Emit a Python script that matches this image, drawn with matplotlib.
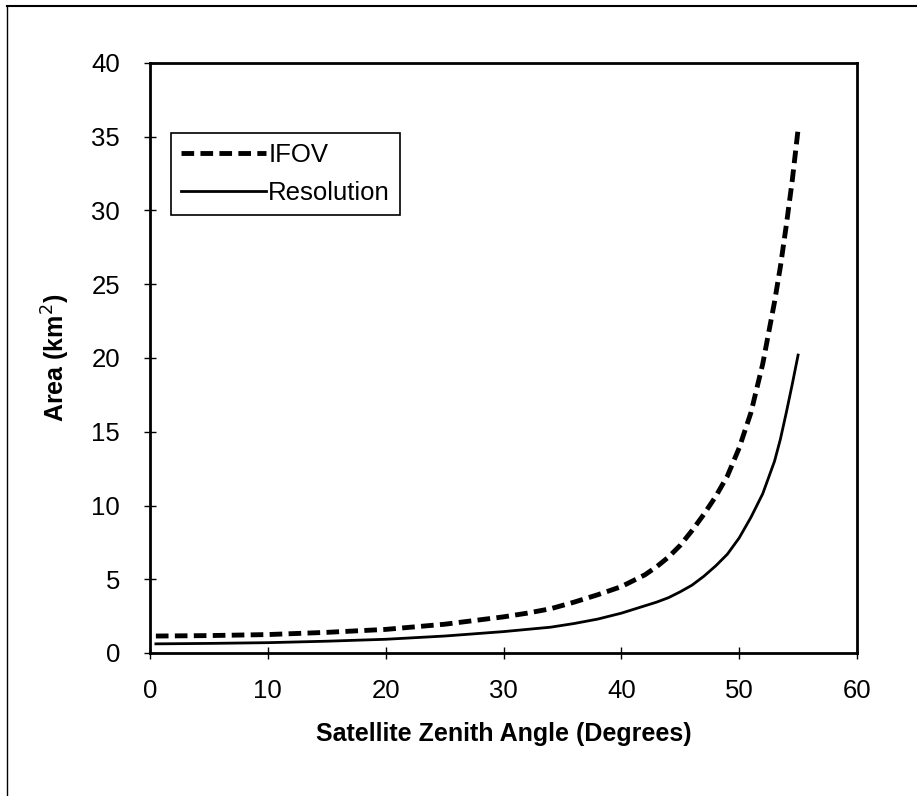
import matplotlib.pyplot as plt
from matplotlib.lines import Line2D

plt.rcParams['font.family'] = ['Liberation Sans', 'DejaVu Sans']

# zenith angle (degrees)
angle = [0.5, 5, 10, 15, 20, 25, 30, 32, 34, 36, 38, 40, 42, 43, 44, 45, 46,
         47, 48, 49, 50, 51, 52, 53, 53.5, 54, 54.5, 55]
# IFOV area (km^2)
ifov = [1.15, 1.18, 1.25, 1.4, 1.6, 1.95, 2.45, 2.7, 3.0, 3.45, 3.95, 4.5,
        5.3, 5.85, 6.5, 7.3, 8.3, 9.4, 10.6, 12.0, 13.9, 16.3, 19.6, 23.8,
        26.2, 29.0, 32.0, 35.5]
# resolution area (km^2)
resolution = [0.62, 0.65, 0.7, 0.8, 0.93, 1.15, 1.45, 1.6, 1.75, 2.0, 2.3,
              2.7, 3.2, 3.45, 3.75, 4.15, 4.6, 5.2, 5.9, 6.7, 7.8, 9.2, 10.8,
              13.0, 14.5, 16.3, 18.2, 20.2]

fig = plt.figure(figsize=(9.17, 7.96), dpi=100)
ax = fig.add_axes([150 / 917, 1 - 653 / 796, 707 / 917, 590 / 796])

ax.plot(angle, ifov, color='black', lw=3.5, linestyle=(0, (2.6, 1.3)),
        dash_capstyle='butt', label='IFOV')
ax.plot(angle, resolution, color='black', lw=2.0, label='Resolution')

ax.set_xlim(0, 60)
ax.set_ylim(0, 40)
ax.set_xticks(range(0, 61, 10))
ax.set_yticks(range(0, 41, 5))
ax.tick_params(direction='inout', length=9, width=1, labelsize=18.5, pad=14)
ax.tick_params(axis='y', pad=17)
for s in ax.spines.values():
    s.set_linewidth(2)

ax.set_xlabel('Satellite Zenith Angle (Degrees)', fontsize=18,
              fontweight='bold', labelpad=14)
ax.set_ylabel('Area (km$^2$)', fontsize=18, fontweight='bold', labelpad=14)

leg = ax.legend(loc='upper left', bbox_to_anchor=(0.029, 0.882), fontsize=18.5,
                frameon=True, fancybox=False, edgecolor='black',
                framealpha=1, handlelength=3.3, handletextpad=0.1,
                borderpad=0.4, labelspacing=0.55, borderaxespad=0)
leg.get_frame().set_linewidth(1.2)

# scanned page frame (left and top edges)
fig.add_artist(Line2D([7 / 917, 7 / 917], [0, 1 - 6 / 796], color='black',
                      lw=1, transform=fig.transFigure))
fig.add_artist(Line2D([7 / 917, 1], [1 - 6 / 796, 1 - 6 / 796],
                      color='black', lw=1.5, transform=fig.transFigure))

fig.savefig('out.png', dpi=100)
